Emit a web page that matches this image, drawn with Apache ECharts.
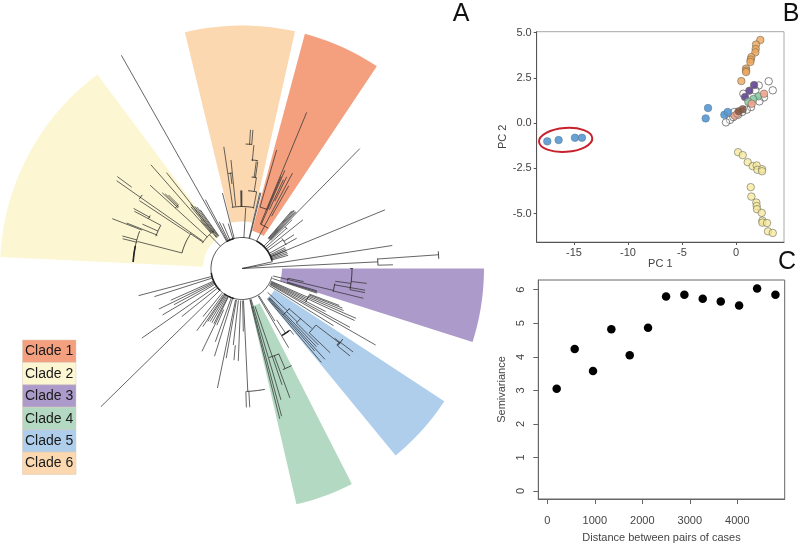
<!DOCTYPE html>
<html>
<head>
<meta charset="utf-8" />
<style>
  html, body { margin: 0; padding: 0; background: #fff; }
  #chart { width: 800px; height: 544px; }
</style>
<script src="https://cdn.jsdelivr.net/npm/echarts@6/dist/echarts.min.js"></script>
</head>
<body>
<div id="chart"></div>
<script>
const cladeNames = ["Clade 1", "Clade 2", "Clade 3", "Clade 4", "Clade 5", "Clade 6"];
const cladeColors = ["#F4A07F", "#FCF7D2", "#AC9ACB", "#B4D9C2", "#AFCEEC", "#FBD8B0"];
// bearing from, bearing to, inner radius, outer radius
const cladeSectors = [
  [15, 33.7, 39, 243],
  [-87.3, -36.7, 39, 242],
  [90, 107.7, 40, 242],
  [153, 167, 39, 242],
  [123.3, 140.6, 39, 242],
  [-13.6, 12.6, 47, 243],
];

// tree: bearing, r from, r to
const rootSpokes = [
  [77.5, 0, 31], [87.2, 0, 136], [81.3, 0, 152], [86, 136, 197], [88.6, 136, 151],
];
const clade2Spokes = [
  [-44, 31, 47], [-75.5, 62, 108], [-56.5, 63, 123], [-56, 47, 63],
  [-69, 107, 139], [-68.5, 91, 124], [-61, 105, 124], [-62, 106, 122],
  [-76, 108, 123], [-74.8, 109, 124], [-66, 92, 109], [-62, 92, 106],
  [-55, 48, 153], [-53.6, 137, 155], [-47.8, 47, 124], [-46.5, 88, 110], [-45.8, 88, 107],
  [-45, 90, 104], [-41.3, 47, 138], [-38.2, 45, 122], [-37.2, 40, 78], [-36.2, 40, 76],
  [-38.6, 40, 82], [-39.6, 40, 80], [-35.4, 40, 72], [-40.4, 48, 64],
];
const clade6Spokes = [
  [3.5, 31, 61], [-8.5, 62, 123], [-5.8, 63, 109], [-0.9, 62, 78], [-0.5, 62, 78], [-0.1, 62, 78],
  [-6.8, 85, 96], [10.8, 61, 78], [9, 78, 92], [7.6, 92, 108], [8.4, 92, 108], [5.5, 108, 124],
  [4.5, 124, 139], [3.5, 124, 139],
];
const clade1Spokes = [
  [28, 31, 48], [22.5, 48, 169], [23.6, 48, 107], [27.9, 48, 108], [16.3, 64, 123.5],
  [23, 64, 100], [26, 75, 102], [25, 65, 98], [29.5, 60, 95],
];
const outerSpokes = [
  [-29.5, 31, 245], [-28, 31, 78], [-14.5, 31, 78], [-23, 31, 49], [-17, 31, 47], [-26, 31, 52],
  [14, 31, 78], [13.2, 31, 78],
  [44.5, 31, 168], [41.5, 40, 78], [42.2, 40, 78], [43, 40, 78], [43.8, 40, 78], [40.8, 40, 76],
  [51.4, 31, 78], [61, 31, 62.5], [67.7, 31, 154.5], [48, 31, 60], [55, 31, 50],
  [64, 31, 48], [66, 31, 48], [68, 31, 48], [70, 31, 48], [72, 31, 48], [74, 31, 48],
  [57, 50, 62], [45.8, 40, 70],
];
const clade3Spokes = [
  [103.5, 32, 94], [97.8, 94, 110], [90, 108, 111], [96.8, 110, 125.6], [101.1, 110, 125.4],
  [100, 94, 125], [103.8, 94, 125], [108.2, 32, 79], [107.4, 47, 79], [106.6, 47, 78], [102, 47, 63],
];
const midSpokes = [
  [113.6, 32, 124.4], [114.8, 32, 124], [112.5, 72, 110], [111.5, 72, 108], [110.8, 72, 104],
  [118.6, 32, 123], [119.8, 32, 154], [122, 32, 108], [116, 32, 72], [117.2, 32, 94],
];
const clade5Spokes = [
  [137.6, 40, 123], [139.8, 40, 123], [136.4, 40, 108], [138.6, 40, 110], [133, 35, 62],
  [130.6, 62, 77], [134, 62, 77], [130.6, 77, 92], [135, 77, 108], [127.4, 93, 123],
  [133.7, 93, 122], [126.9, 123, 139], [129, 123, 139], [127, 116, 124],
];
const lowerSpokes = [
  [149.5, 32, 92], [148, 32, 62], [142, 78, 84], [146, 62, 78],
  [177.3, 32, 123], [178.2, 123, 139], [176.8, 123, 139], [182.3, 32, 92.5], [178.8, 32, 63],
  [191.6, 32, 122], [186.5, 32, 77], [185, 77, 92], [190, 32, 91], [197.4, 32, 92], [200, 32, 78],
  [205.8, 32, 92], [212.8, 32, 63], [216, 32, 77], [207, 32, 62], [209, 32, 62], [211, 32, 62], [204, 45, 62],
  [225.6, 31, 197.5], [231.4, 31, 77], [235.2, 31, 122], [239.7, 31, 92], [244, 31, 92.5],
  [242, 31, 77], [246, 31, 78], [252.2, 31, 92], [255.3, 31, 107], [214, 32, 70], [219, 32, 62],
];
const clade4Spokes = [
  [165, 32, 153], [165.9, 32, 155], [163.5, 32, 137], [161, 40, 93], [159.7, 93, 138],
  [161, 93, 123], [156.7, 93, 109],
];
const treeSpokes = [
  ...rootSpokes, ...clade2Spokes, ...clade6Spokes, ...clade1Spokes, ...outerSpokes,
  ...clade3Spokes, ...midSpokes, ...clade5Spokes, ...lowerSpokes, ...clade4Spokes,
];

// tree: radius, bearing from, bearing to
const treeArcs = [
  [31, -255, 77.5], [136, 85.7, 88.6], [197, 85, 87.2], [47, -57.4, -36], [62, -75.5, -56],
  [109, -86.6, -70], [92, -69.5, -62], [106, -62, -60], [124, -56, -53.6], [90, -47.8, -45],
  [62, -9.4, 10.8], [96, -8.2, -6], [124.5, 1.7, 4.5], [109, 5, 8.4], [92, 6, 9], [78, 4.5, 10.8],
  [64, 16.2, 23], [48, 23, 33], [50, 53, 62], [60, 46, 49],
  [94, 99.2, 104.3], [110, 90, 101], [47, 102, 105], [72, 112, 118],
  [62, 130, 138], [77, 130, 135], [93, 127.7, 133.7], [123, 125, 129], [122, 127, 129],
  [78, 142, 149.5], [123, 169.3, 178], [93, 156.7, 163], [109, 153, 158],
];
const thickArcs = [
  [31, 28, 75], [31, -30, -15], [31, 225, 262], [31, 195, 215], [109, -86.6, -78], [78, 143, 149],
];

// panel B, PC 1 / PC 2
const pcaBlue = [[-17.47, -1.01], [-16.42, -0.94], [-14.91, -0.81], [-14.26, -0.81], [-2.81, 0.26], [-2.59, 0.83], [-1.08, 0.46], [-0.77, 0.61]];
const pcaYellow = [[0.19, -1.61], [0.62, -1.77], [1.08, -2.16], [1.54, -2.38], [1.91, -2.34], [1.98, -2.58], [2.41, -2.55], [2.41, -2.66], [1.36, -3.54], [1.42, -4.06], [1.88, -4.39], [1.91, -4.58], [1.94, -4.76], [2.38, -4.96], [2.44, -5.39], [2.44, -5.5], [2.87, -5.52], [2.96, -5.98], [3.4, -6.07]];
const pcaOrange = [[2.25, 4.59], [1.85, 4.34], [1.82, 4.1], [1.79, 3.91], [1.42, 3.65], [1.36, 3.51], [1.33, 3.38], [0.93, 3.01], [0.93, 2.9], [0.93, 2.82], [0.49, 2.32]];
const pcaPurple = [[1.67, 2.1], [1.23, 1.79], [0.83, 1.44]];
const pcaGreen = [[2.07, 1.48], [1.6, 1.33], [1.14, 1.18]];
const pcaSalmon = [[2.59, 1.62], [1.45, 1.07], [-0.12, 0.41], [0.12, 0.52]];
const pcaBrown = [[0.62, 0.77], [0.25, 0.65]];
const pcaOpen = [[3.02, 2.31], [3.4, 1.81], [2.1, 2.08], [1.79, 1.81], [0.68, 1.62], [2.59, 1.42], [2.16, 1.2], [1.39, 0.89], [0.99, 0.74], [0.56, 0.61], [0.19, 0.46], [-0.15, 0.61], [-0.56, 0.18], [-0.93, 0.04], [-0.25, 0.33]];
const outlierEllipse = [[-15.77, -0.93, 2.47, 0.66]];
const pcaTicksX = [-15, -10, -5, 0];
const pcaTicksY = [-5, -2.5, 0, 2.5, 5];

// panel C
const distances = [197, 576, 962, 1348, 1735, 2121, 2500, 2886, 3272, 3652, 4038, 4417, 4803];
const semivariance = [3.05, 4.23, 3.58, 4.82, 4.05, 4.87, 5.8, 5.85, 5.73, 5.65, 5.53, 6.04, 5.85];
const distTicks = [0, 1000, 2000, 3000, 4000];
const semiTicks = [0, 1, 2, 3, 4, 5, 6];

const panelLetters = ["A", "B", "C"];

const FONT = "Liberation Sans";
const TEXT = "#444";
const chart = echarts.init(document.getElementById("chart"));

const hiddenAxis = {
  axisLine: { show: false },
  axisTick: { show: false },
  axisLabel: { show: false },
  splitLine: { show: false },
};

function arcPoints(api, radius, from, to) {
  const pts = [];
  const steps = Math.max(1, Math.ceil(Math.abs(to - from) / 2));
  for (let i = 0; i <= steps; i++) {
    pts.push(api.coord([radius, from + ((to - from) * i) / steps]));
  }
  return pts;
}

function renderSector(params, api) {
  const from = api.value(0);
  const to = api.value(1);
  const inner = arcPoints(api, api.value(2), from, to).reverse();
  const outer = arcPoints(api, api.value(3), from, to);
  return {
    type: "polygon",
    shape: { points: outer.concat(inner) },
    style: { fill: cladeColors[params.dataIndex] },
  };
}

function renderSpoke(params, api) {
  const a = api.coord([api.value(1), api.value(0)]);
  const b = api.coord([api.value(2), api.value(0)]);
  return {
    type: "line",
    shape: { x1: a[0], y1: a[1], x2: b[0], y2: b[1] },
    style: { stroke: "#333", lineWidth: 0.75, fill: null },
  };
}

function arcRenderer(width) {
  return (params, api) => ({
    type: "polyline",
    shape: { points: arcPoints(api, api.value(0), api.value(1), api.value(2)) },
    style: { stroke: "#222", lineWidth: width, fill: null },
  });
}

function renderEllipse(params, api) {
  const c = api.coord([api.value(0), api.value(1)]);
  const s = api.size([api.value(2), api.value(3)]);
  return {
    type: "ellipse",
    shape: { cx: c[0], cy: c[1], rx: s[0], ry: s[1] },
    rotation: 0.07,
    originX: c[0],
    originY: c[1],
    style: { stroke: "#C8202B", lineWidth: 2, fill: null },
  };
}

function polarSeries(data, renderItem) {
  return {
    type: "custom",
    coordinateSystem: "polar",
    silent: true,
    data,
    renderItem,
  };
}

function pcaSeries(data, fill, stroke) {
  return {
    type: "scatter",
    xAxisIndex: 0,
    yAxisIndex: 0,
    data,
    symbolSize: 7.5,
    silent: true,
    itemStyle: { color: fill, borderColor: stroke || "#6b6b5a", borderWidth: 0.6, opacity: 1 },
  };
}

const legendGraphics = cladeNames.flatMap((name, i) => {
  const y = 340 + i * 22.4;
  return [
    {
      type: "rect",
      shape: { x: 22.5, y, width: 53.5, height: 22.4 },
      style: { fill: cladeColors[i], stroke: "#d8c9b8", lineWidth: 0.5 },
    },
    {
      type: "text",
      x: 25,
      y: y + 11.5,
      style: { text: name, font: `14px '${FONT}'`, fill: "#1a1a1a", textVerticalAlign: "middle" },
    },
  ];
});

const letterGraphics = panelLetters.map((text, i) => ({
  type: "text",
  x: [461, 791, 787][i],
  y: [14, 14, 262][i],
  style: {
    text,
    font: `25px '${FONT}'`,
    fill: "#111",
    textAlign: "center",
    textVerticalAlign: "middle",
  },
}));

chart.setOption({
  animation: false,
  backgroundColor: "#fff",
  polar: { center: [242, 268.5], radius: [0, 250] },
  radiusAxis: { type: "value", min: 0, max: 250, ...hiddenAxis },
  angleAxis: { type: "value", min: 0, max: 360, startAngle: 90, ...hiddenAxis },
  grid: [
    { left: 536.7, top: 31.7, width: 247.3, height: 210.3, show: true, borderColor: "#a8a8a8", borderWidth: 1 },
    { left: 538.3, top: 280, width: 246.4, height: 219.3, show: true, borderColor: "#666", borderWidth: 1 },
  ],
  xAxis: [
    {
      gridIndex: 0,
      type: "value",
      min: -18.45,
      max: 4.44,
      name: "PC 1",
      nameLocation: "middle",
      nameGap: 16,
      nameTextStyle: { fontFamily: FONT, fontSize: 11, color: TEXT },
      splitLine: { show: false },
      axisLine: { onZero: false, lineStyle: { color: "#555" } },
      axisTick: { length: 3, lineStyle: { color: "#555" }, customValues: pcaTicksX },
      axisLabel: { fontFamily: FONT, fontSize: 11, color: TEXT, margin: 5, customValues: pcaTicksX },
    },
    {
      gridIndex: 1,
      type: "value",
      min: -190,
      max: 4998,
      name: "Distance between pairs of cases",
      nameLocation: "middle",
      nameGap: 33,
      nameTextStyle: { fontFamily: FONT, fontSize: 11, color: TEXT },
      splitLine: { show: false },
      axisLine: { onZero: false, lineStyle: { color: "#666" } },
      axisTick: { length: 5, lineStyle: { color: "#666" }, customValues: distTicks },
      axisLabel: {
        fontFamily: FONT,
        fontSize: 11,
        color: TEXT,
        margin: 16,
        customValues: distTicks,
        formatter: (v) => String(v),
      },
    },
  ],
  yAxis: [
    {
      gridIndex: 0,
      type: "value",
      min: -6.57,
      max: 5.05,
      name: "PC 2",
      nameLocation: "middle",
      nameGap: 27,
      nameTextStyle: { fontFamily: FONT, fontSize: 11, color: TEXT },
      splitLine: { show: false },
      axisLine: { onZero: false, lineStyle: { color: "#555" } },
      axisTick: { length: 3, lineStyle: { color: "#555" }, customValues: pcaTicksY },
      axisLabel: {
        fontFamily: FONT,
        fontSize: 11,
        color: TEXT,
        margin: 5,
        customValues: pcaTicksY,
        formatter: (v) => v.toFixed(1),
      },
    },
    {
      gridIndex: 1,
      type: "value",
      min: -0.238,
      max: 6.29,
      name: "Semivariance",
      nameLocation: "middle",
      nameGap: 31,
      nameTextStyle: { fontFamily: FONT, fontSize: 11, color: TEXT },
      splitLine: { show: false },
      axisLine: { onZero: false, lineStyle: { color: "#666" } },
      axisTick: { length: 5, lineStyle: { color: "#666" }, customValues: semiTicks },
      axisLabel: { fontFamily: FONT, fontSize: 11, color: TEXT, margin: 12, rotate: 90, customValues: semiTicks },
    },
  ],
  graphic: { elements: [...legendGraphics, ...letterGraphics] },
  series: [
    polarSeries(cladeSectors, renderSector),
    polarSeries(treeSpokes, renderSpoke),
    polarSeries(treeArcs, arcRenderer(0.8)),
    polarSeries(thickArcs, arcRenderer(1.6)),
    pcaSeries(pcaOpen, "rgba(255,255,255,0.25)", "#333"),
    pcaSeries(pcaYellow, "rgba(245,232,155,0.75)"),
    pcaSeries(pcaOrange, "rgba(240,165,90,0.8)"),
    pcaSeries(pcaBlue, "rgba(88,152,208,0.9)", "#557a99"),
    pcaSeries(pcaPurple, "rgba(100,70,150,0.9)"),
    pcaSeries(pcaGreen, "rgba(130,200,165,0.85)"),
    pcaSeries(pcaSalmon, "rgba(240,165,145,0.9)"),
    pcaSeries(pcaBrown, "rgba(130,85,65,0.85)"),
    {
      type: "custom",
      coordinateSystem: "cartesian2d",
      xAxisIndex: 0,
      yAxisIndex: 0,
      silent: true,
      clip: false,
      data: outlierEllipse,
      renderItem: renderEllipse,
    },
    {
      type: "scatter",
      xAxisIndex: 1,
      yAxisIndex: 1,
      data: distances.map((d, i) => [d, semivariance[i]]),
      symbolSize: 8.5,
      silent: true,
      itemStyle: { color: "#000", opacity: 1 },
    },
  ],
});
</script>
</body>
</html>
